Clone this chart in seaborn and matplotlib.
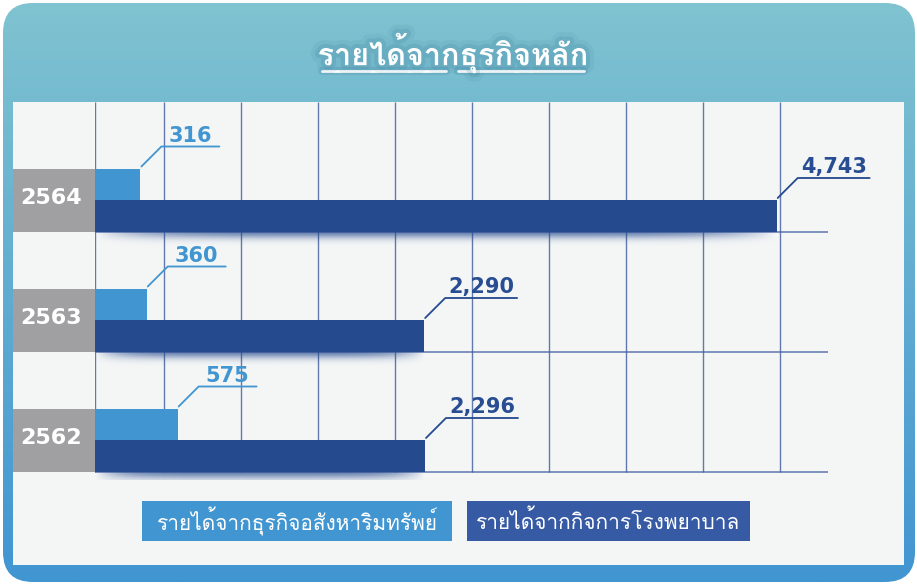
import numpy as np
import pandas as pd
import seaborn as sns
import matplotlib
matplotlib.use('Agg')
import matplotlib.pyplot as plt
from matplotlib import font_manager
from matplotlib.ft2font import FT2Font
from matplotlib.patches import Rectangle, FancyBboxPatch
from matplotlib.lines import Line2D
import matplotlib.patheffects as pe

# data
title = 'รายได้จากธุรกิจหลัก'
years = ['2564', '2563', '2562']
series = ['รายได้จากธุรกิจอสังหาริมทรัพย์', 'รายได้จากกิจการโรงพยาบาล']
realestate = [316, 360, 575]
hospital = [4743, 2290, 2296]

light = '#4195D1'
dark = '#254A8E'
grid_c = '#4862A2'

sns.set_theme(style='white')

# find a font that has thai glyphs
thai_font = None
for f in font_manager.fontManager.ttflist:
    try:
        if 0x0E23 in FT2Font(f.fname).get_charmap():
            thai_font = f.name
            break
    except Exception:
        pass
fams = ([thai_font] if thai_font else []) + ['DejaVu Sans']
plt.rcParams['font.family'] = fams

df = pd.DataFrame({
    'year': years * 2,
    'value': realestate + hospital,
    'series': [series[0]] * 3 + [series[1]] * 3,
})

W, H = 917, 584
fig = plt.figure(figsize=(W / 100, H / 100), dpi=100)

# background in pixel coords
bg = fig.add_axes([0, 0, 1, 1], zorder=0)
bg.set_xlim(0, W)
bg.set_ylim(H, 0)
bg.axis('off')

frame = FancyBboxPatch((3, 3), 912, 579, boxstyle='round,pad=0,rounding_size=30',
                       fc='none', ec='none')
bg.add_patch(frame)
top_c = np.array([0x80, 0xC3, 0xD0]) / 255
bot_c = np.array([0x41, 0x95, 0xD2]) / 255
t = np.linspace(0, 1, 256)[:, None, None]
grad = top_c * (1 - t) + bot_c * t
im = bg.imshow(grad, extent=(3, 915, 582, 3), origin='upper', aspect='auto')
im.set_clip_path(frame)
bg.add_patch(Rectangle((13, 102), 891, 463, fc='#F4F6F6', ec='none'))
bg.set_xlim(0, W)
bg.set_ylim(H, 0)

# title
shadow = [pe.Stroke(linewidth=12, foreground='#2C6E8C', alpha=0.08),
          pe.Stroke(linewidth=6, foreground='#2C6E8C', alpha=0.14), pe.Normal()]
bg.text(453, 53, title, color='white', fontsize=22, fontweight='bold',
        ha='center', va='center', path_effects=shadow)
bg.plot([322, 446], [71, 71], color='white', lw=2, path_effects=shadow[1:])
bg.plot([458, 584], [71, 71], color='white', lw=2, path_effects=shadow[1:])

# main chart
xmax = 5100
ax = fig.add_axes([95 / W, 1 - 480 / H, (828 - 95) / W, (480 - 102) / H], zorder=1)
ax.set_facecolor('none')
bw = 0.525
sns.barplot(data=df, x='value', y='year', hue='series', order=years, hue_order=series,
            palette=[light, dark], width=bw, orient='h', saturation=1, linewidth=0,
            errorbar=None, legend=False, ax=ax, zorder=3)
ax.set_xlim(0, xmax)
ax.set_ylim(2 + 40 / 120, -98 / 120)
ax.autoscale(False)
ax.axis('off')

px = 733 / xmax
gridx = [0] + list(np.arange(480, 4800, 536))
ax.vlines(gridx, 2 + bw / 2, -98 / 120, color=grid_c, lw=1, alpha=0.85, zorder=1)
for i in range(len(years)):
    ax.hlines(i + bw / 2, 0, xmax, color=grid_c, lw=1.2, alpha=0.8, zorder=1)
    # year box
    ax.add_patch(Rectangle((-82 / px, i - bw / 2), 82 / px, bw, fc='#A0A0A2', ec='none',
                           clip_on=False, zorder=3))
    ax.text(-44 / px, i - 0.02, years[i], color='white', fontsize=16, fontweight='bold',
            ha='center', va='center', family=['DejaVu Sans'], clip_on=False, zorder=4)

# soft shadow under dark bars
sh_rgba = np.zeros((30, 200, 4))
sh_rgba[..., :3] = np.array([0x25, 0x4A, 0x8E]) / 255
vy = np.linspace(0, 1, 30)[:, None]
vx = np.linspace(-1, 1, 200)[None, :]
sh_rgba[..., 3] = 0.7 * np.exp(-(vy / 0.4) ** 2) * np.clip(1 - vx ** 6, 0, 1)
for bar in ax.containers[1]:
    yb = bar.get_y() + bar.get_height()
    ax.imshow(sh_rgba, extent=(0, bar.get_width(), yb + 0.15, yb), origin='upper',
              aspect='auto', zorder=2)
ax.set_xlim(0, xmax)
ax.set_ylim(2 + 40 / 120, -98 / 120)


def to_px(x, y):
    d = ax.transData.transform((x, y))
    return bg.transData.inverted().transform(d)


# value labels with leader lines
for cont, vals, col, tcol, run in [(ax.containers[0], realestate, light, light, 58),
                                   (ax.containers[1], hospital, dark, '#284D92', 72)]:
    for bar, v in zip(cont, vals):
        x0, y0 = to_px(bar.get_width(), bar.get_y())
        xs = [x0 + 1, x0 + 21, x0 + 21 + run]
        ys = [y0 - 2, y0 - 22, y0 - 22]
        fig.add_artist(Line2D(xs, ys, transform=bg.transData, color=col, lw=1.3))
        fig.text(x0 + 21 + run / 2, y0 - 27, f'{v:,}', transform=bg.transData,
                 color=tcol, fontsize=15, fontweight='bold', ha='center', va='baseline',
                 family=['DejaVu Sans'])

# legend boxes
for x0, wdt, col, lab in [(142, 310, light, series[0]), (467, 283, '#375AA5', series[1])]:
    bg.add_patch(Rectangle((x0, 501), wdt, 40, fc=col, ec='none', zorder=5))
    fig.text(x0 + wdt / 2, 521, lab, transform=bg.transData, color='white',
             fontsize=15, ha='center', va='center')

fig.savefig('out.png', dpi=100)
